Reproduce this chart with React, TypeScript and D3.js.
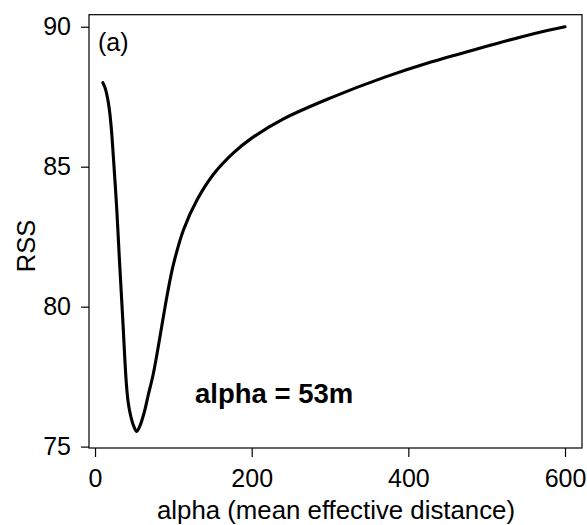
import React, { useEffect, useRef } from 'react';
import * as d3 from 'd3';

// alpha (mean effective distance) vs residual sum of squares
const alphaValues = [10, 13, 16, 18.5, 21, 23.4, 27.7, 31, 35.3, 39.6, 42, 44.7, 48.5, 53, 57, 62.6, 68, 74, 80, 87, 93, 100, 113, 130, 151, 177, 200, 240, 300, 370, 430, 500, 560, 600];
const rssValues = [88.0, 87.8, 87.45, 87.0, 86.3, 85.35, 83.5, 81.75, 79.6, 77.4, 76.65, 76.2, 75.8, 75.54, 75.72, 76.2, 76.85, 77.55, 78.45, 79.6, 80.55, 81.5, 82.75, 83.8, 84.72, 85.5, 86.02, 86.7, 87.45, 88.2, 88.75, 89.3, 89.75, 90.0];

const xTicks = [0, 200, 400, 600];
const yTicks = [75, 80, 85, 90];

const xLabel = 'alpha (mean effective distance)';
const yLabel = 'RSS';
const panelLabel = '(a)';
const bestLabel = 'alpha = 53m';

const W = 587;
const H = 525;
const FONT = '"Liberation Sans", Arial, Helvetica, sans-serif';

export default function App() {
  const ref = useRef<SVGSVGElement>(null);

  useEffect(() => {
    const svg = d3.select(ref.current);
    svg.selectAll('*').remove();

    const box = { left: 89, top: 14.7, right: 582, bottom: 448 };

    const x = d3.scaleLinear().domain([-7.7, 621.7]).range([box.left, box.right]);
    const y = d3.scaleLinear().domain([74.95, 90.43]).range([box.bottom, box.top]);

    const data = alphaValues.map((a, i) => ({ a, r: rssValues[i] }));

    // frame
    svg.append('rect')
      .attr('x', box.left)
      .attr('y', box.top)
      .attr('width', box.right - box.left)
      .attr('height', box.bottom - box.top)
      .attr('fill', 'none')
      .attr('stroke', '#000')
      .attr('stroke-width', 1.2);

    // x axis
    const gx = svg.append('g')
      .attr('transform', 'translate(0,' + box.bottom + ')')
      .call(d3.axisBottom(x).tickValues(xTicks).tickSize(9).tickPadding(12).tickFormat(d3.format('d')));
    gx.select('.domain').remove();
    gx.selectAll('line').attr('stroke', '#000').attr('stroke-width', 1.2);
    gx.selectAll('text')
      .attr('font-family', FONT)
      .attr('font-size', 25)
      .attr('fill', '#000');

    // y axis
    const gy = svg.append('g')
      .attr('transform', 'translate(' + box.left + ',0)')
      .call(d3.axisLeft(y).tickValues(yTicks).tickSize(8).tickPadding(10).tickFormat(d3.format('d')));
    gy.select('.domain').remove();
    gy.selectAll('line').attr('stroke', '#000').attr('stroke-width', 1.2);
    gy.selectAll('text')
      .attr('font-family', FONT)
      .attr('font-size', 25)
      .attr('fill', '#000');

    // curve
    const line = d3.line<{ a: number; r: number }>()
      .x(d => x(d.a))
      .y(d => y(d.r))
      .curve(d3.curveCatmullRom.alpha(0.5));

    svg.append('path')
      .datum(data)
      .attr('d', line)
      .attr('fill', 'none')
      .attr('stroke', '#000')
      .attr('stroke-width', 3.1)
      .attr('stroke-linejoin', 'round')
      .attr('stroke-linecap', 'round');

    // labels
    svg.append('text')
      .attr('x', (box.left + box.right) / 2 + 0.5)
      .attr('y', 519)
      .attr('text-anchor', 'middle')
      .attr('font-family', FONT)
      .attr('font-size', 25.8)
      .text(xLabel);

    svg.append('text')
      .attr('transform', 'translate(35,246) rotate(-90)')
      .attr('text-anchor', 'middle')
      .attr('font-family', FONT)
      .attr('font-size', 25.5)
      .text(yLabel);

    svg.append('text')
      .attr('x', 98)
      .attr('y', 51)
      .attr('font-family', FONT)
      .attr('font-size', 25)
      .text(panelLabel);

    svg.append('text')
      .attr('x', 195)
      .attr('y', 403)
      .attr('font-family', FONT)
      .attr('font-weight', 'bold')
      .attr('font-size', 27.5)
      .text(bestLabel);
  }, []);

  return (
    <svg ref={ref} width={W} height={H} style={{ position: 'absolute', left: 0, top: 0, background: '#fff' }} />
  );
}
